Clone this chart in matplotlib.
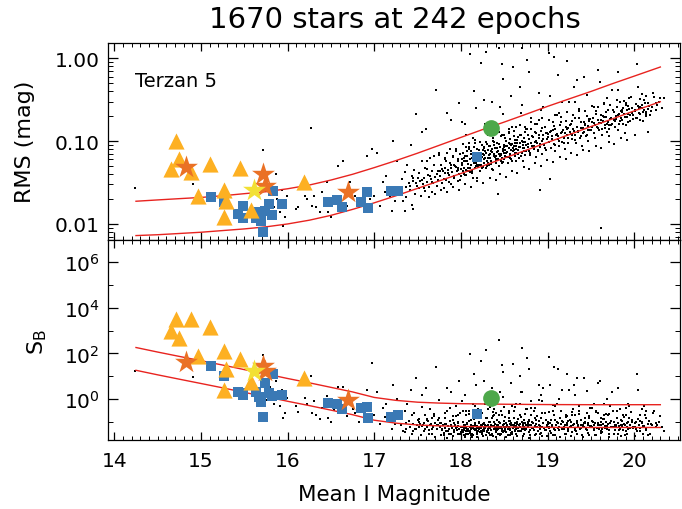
import numpy as np
import matplotlib
matplotlib.use('Agg')
import matplotlib.pyplot as plt
from matplotlib.ticker import FixedLocator, FixedFormatter, NullFormatter, MultipleLocator

# ---- field stars (black dots): mean I mag, RMS (mag), S_B ----
dot_mag = [
    14.24, 14.91, 15.28, 15.62, 15.72, 15.76, 15.80, 15.84,
    15.87, 15.88, 15.91, 15.93, 15.95, 15.97, 15.99,
    16.10, 16.12, 16.20, 16.22, 16.27, 16.28, 16.30, 16.33, 16.37, 16.40, 16.45, 16.47,
    16.50, 16.53, 16.58, 16.64, 16.68, 16.72, 16.75, 16.78, 16.82, 16.87, 16.91, 16.95,
    16.97, 17.00, 17.03, 17.06, 17.10, 17.12, 17.14, 17.18, 17.21, 17.24, 17.26, 17.28,
    17.31, 17.32, 17.33, 17.35, 17.36, 17.37, 17.38, 17.40, 17.41, 17.42, 17.43, 17.44,
    17.45, 17.46, 17.47, 17.48, 17.49, 17.50, 17.20, 17.35, 17.45,
    17.51, 17.52, 17.53, 17.54, 17.55, 17.56, 17.57, 17.58, 17.59, 17.60, 17.61, 17.62,
    17.63, 17.64, 17.65, 17.66, 17.67, 17.68, 17.69, 17.70, 17.71, 17.72, 17.73, 17.74,
    17.75, 17.76, 17.77, 17.78, 17.79, 17.80, 17.81, 17.81, 17.82, 17.83, 17.84, 17.85,
    17.86, 17.87, 17.88, 17.88, 17.89, 17.90, 17.91, 17.92, 17.93, 17.94, 17.95, 17.96,
    17.96, 17.97, 17.98, 17.98, 17.99, 18.00, 18.00,
    18.01, 18.02, 18.03, 18.04, 18.05, 18.06, 18.06, 18.07, 18.08, 18.09, 18.10, 18.10,
    18.11, 18.12, 18.13, 18.13, 18.14, 18.15, 18.16, 18.16, 18.17, 18.18, 18.19, 18.19,
    18.20, 18.21, 18.21, 18.22, 18.23, 18.23, 18.24, 18.24, 18.25, 18.25, 18.15, 18.05,
    18.26, 18.27, 18.27, 18.28, 18.29, 18.29, 18.30, 18.31, 18.31, 18.32, 18.33, 18.33,
    18.34, 18.35, 18.36, 18.36, 18.37, 18.38, 18.38, 18.39, 18.40, 18.40, 18.41, 18.42,
    18.42, 18.43, 18.44, 18.44, 18.45, 18.46, 18.46, 18.47, 18.47, 18.48, 18.48, 18.49,
    18.50, 18.50, 18.43, 18.91, 19.03, 19.62,
    18.51, 18.52, 18.52, 18.53, 18.54, 18.55, 18.55, 18.56, 18.57, 18.58, 18.58, 18.59,
    18.60, 18.60, 18.61, 18.62, 18.63, 18.64, 18.64, 18.65, 18.66, 18.67, 18.68, 18.68,
    18.69, 18.70, 18.70, 18.71, 18.72, 18.73, 18.73, 18.74, 18.75, 18.75,
    18.76, 18.77, 18.77, 18.78, 18.79, 18.79, 18.80, 18.81, 18.82, 18.83, 18.84, 18.85,
    18.85, 18.86, 18.87, 18.88, 18.89, 18.90, 18.90, 18.91, 18.92, 18.93, 18.94, 18.95,
    18.95, 18.96, 18.97, 18.98, 18.99, 19.00,
    19.01, 19.02, 19.03, 19.04, 19.05, 19.06, 19.07, 19.07, 19.08, 19.09, 19.10, 19.11,
    19.12, 19.13, 19.14, 19.15, 19.16, 19.17, 19.18, 19.19, 19.20, 19.21, 19.22, 19.22,
    19.23, 19.24,
    19.26, 19.27, 19.28, 19.29, 19.30, 19.31, 19.32, 19.33, 19.34, 19.35, 19.36, 19.37,
    19.38, 19.39, 19.40, 19.41, 19.42, 19.43, 19.44, 19.45, 19.46, 19.47, 19.48, 19.49,
    19.51, 19.52, 19.53, 19.54, 19.55, 19.56, 19.57, 19.58, 19.59, 19.60, 19.61, 19.62,
    19.63, 19.64, 19.65, 19.66, 19.67, 19.68, 19.69, 19.70, 19.71, 19.72, 19.73, 19.74,
    19.76, 19.77, 19.78, 19.79, 19.80, 19.81, 19.82, 19.83, 19.84, 19.85, 19.86,
    19.87, 19.88, 19.89, 19.90, 19.91, 19.92, 19.93, 19.94, 19.95, 19.97, 19.99,
    20.01, 20.02, 20.03, 20.05, 20.06, 20.07, 20.09, 20.10, 20.11,
    20.13, 20.14, 20.16, 20.18, 20.20, 20.22, 20.25, 20.29, 20.34,
]
dot_rms = [
    0.027, 0.030, 0.021, 0.013, 0.079, 0.017, 0.030, 0.016,
    0.040, 0.020, 0.0138, 0.026, 0.0095, 0.012, 0.022,
    0.015, 0.016, 0.022, 0.020, 0.145, 0.0166, 0.022, 0.016, 0.0138, 0.024, 0.032, 0.0138,
    0.012, 0.020, 0.050, 0.058, 0.0166, 0.032, 0.026, 0.022, 0.016, 0.026, 0.066, 0.020,
    0.080, 0.022, 0.072, 0.0166, 0.032, 0.024, 0.038, 0.022, 0.100, 0.019, 0.058, 0.028,
    0.024, 0.035, 0.019, 0.042, 0.028, 0.021, 0.052, 0.031, 0.026, 0.090, 0.038, 0.017,
    0.033, 0.045, 0.023, 0.210, 0.029, 0.036, 0.0145, 0.0145, 0.0150,
    0.027, 0.041, 0.033, 0.022, 0.058, 0.030, 0.036, 0.025, 0.047, 0.140, 0.032, 0.039,
    0.028, 0.062, 0.035, 0.044, 0.024, 0.031, 0.052, 0.037, 0.420, 0.029, 0.043, 0.034,
    0.068, 0.038, 0.051, 0.031, 0.044, 0.027, 0.060, 0.041, 0.048, 0.034, 0.072, 0.045,
    0.039, 0.055, 0.030, 0.180, 0.047, 0.042, 0.064, 0.036, 0.050, 0.080, 0.044, 0.033,
    0.057, 0.048, 0.290, 0.040, 0.069, 0.046, 0.038,
    0.055, 0.071, 0.048, 0.062, 0.039, 0.085, 0.057, 0.066, 0.044, 0.095, 0.060, 1.120,
    0.052, 0.075, 0.041, 0.063, 0.110, 0.054, 0.068, 0.047, 0.250, 0.059, 0.080, 0.036,
    0.064, 0.051, 0.072, 0.043, 0.880, 0.058, 0.090, 0.065, 0.049, 0.070, 0.400, 0.160,
    0.068, 0.085, 0.055, 0.075, 1.200, 0.047, 0.092, 0.063, 0.079, 0.052, 0.120, 0.070,
    0.088, 0.058, 0.300, 0.074, 0.045, 0.098, 0.066, 0.082, 0.054, 0.140, 0.073, 0.060,
    0.095, 0.077, 1.320, 0.050, 0.086, 0.069, 0.115, 0.850, 0.062, 0.080, 0.570, 0.056,
    0.091, 0.072, 0.023, 0.026, 0.035, 0.0089,
    0.078, 0.100, 0.064, 0.088, 0.055, 0.130, 0.082, 0.070, 0.105, 0.060, 0.350, 0.092,
    0.780, 0.075, 0.115, 0.066, 0.087, 0.150, 0.058, 0.096, 0.079, 0.062, 0.120, 0.085,
    0.220, 1.320, 0.071, 0.098, 0.057, 0.108, 0.083, 0.068, 0.140, 0.090,
    0.950, 0.092, 0.120, 0.075, 0.690, 0.105, 0.068, 0.140, 0.088, 0.112, 0.080, 0.160,
    0.098, 0.064, 0.125, 0.094, 0.076, 0.180, 0.108, 0.085, 0.132, 0.100, 0.070, 0.260,
    0.117, 0.090, 0.150, 0.078, 0.105, 0.122,
    1.160, 0.098, 0.130, 0.082, 0.115, 0.170, 1.050, 0.092, 0.140, 0.075, 0.120, 0.205,
    0.105, 0.088, 0.155, 0.125, 0.098, 0.300, 0.135, 0.110, 0.080, 0.175, 0.940, 0.118,
    0.145, 0.095,
    0.128, 0.160, 0.105, 0.140, 0.450, 0.118, 0.190, 0.095, 0.150, 0.132, 0.230, 0.110,
    0.170, 0.145, 0.088, 0.125, 0.600, 0.158, 0.115, 0.200, 0.138, 0.100, 0.175, 0.135,
    0.150, 0.190, 0.125, 0.165, 0.108, 0.230, 0.150, 0.182, 0.135, 0.520, 0.165, 0.205,
    0.118, 0.175, 0.280, 0.145, 0.195, 0.130, 0.160, 0.240, 0.115, 0.185, 0.155, 0.410,
    0.180, 0.225, 0.150, 0.200, 0.260, 0.135, 0.210, 0.175, 0.300, 0.190, 0.240,
    0.160, 0.215, 0.125, 0.270, 0.195, 0.235, 0.170, 0.330, 0.205, 0.250, 0.185,
    0.230, 0.280, 0.190, 0.250, 0.320, 0.210, 0.270, 0.175, 0.240,
    0.350, 0.225, 0.290, 0.205, 0.260, 0.380, 0.240, 0.300, 0.330,
]
dot_sb = [
    17, 9.0, 2.2, 0.8, 85, 0.9, 3.5, 0.6,
    6.0, 1.3, 0.5, 2.4, 0.15, 0.25, 1.1,
    0.5, 0.28, 1.1, 0.63, 10, 0.25, 0.8, 0.2, 0.13, 0.4, 1.4, 0.14,
    0.1, 0.32, 3.2, 3.5, 0.18, 0.8, 0.35, 0.25, 0.1, 0.32, 2.5, 0.14,
    40, 0.2, 2.0, 0.08, 0.4, 0.16, 0.63, 0.11, 4, 0.08, 1.0, 0.2,
    0.07, 0.15, 0.04, 0.30, 0.09, 0.05, 0.6, 0.11, 0.06, 2.5, 0.2, 0.028,
    0.08, 0.25, 0.05, 8, 0.07, 0.12, 0.05, 0.035, 0.04,
    0.06, 0.13, 0.08, 0.025, 0.45, 0.07, 0.09, 0.05, 0.2, 3.0, 0.06, 0.11,
    0.045, 0.35, 0.08, 0.15, 0.03, 0.06, 0.22, 0.09, 25, 0.05, 0.12, 0.07,
    0.9, 0.06, 0.09, 0.045, 0.07, 0.025, 0.15, 0.055, 0.08, 0.04, 0.3, 0.065,
    0.05, 0.11, 0.03, 2.0, 0.07, 0.055, 0.18, 0.042, 0.075, 0.5, 0.06, 0.028,
    0.1, 0.065, 6, 0.05, 0.25, 0.06, 0.035,
    0.06, 0.1, 0.045, 0.07, 0.024, 0.2, 0.055, 0.08, 0.04, 0.3, 0.06, 90,
    0.05, 0.12, 0.03, 0.065, 0.6, 0.05, 0.075, 0.042, 4, 0.055, 0.14, 0.022,
    0.06, 0.048, 0.09, 0.034, 45, 0.055, 0.25, 0.07, 0.045, 0.08, 12, 1.5,
    0.055, 0.09, 0.04, 0.07, 140, 0.026, 0.15, 0.05, 0.075, 0.032, 0.45, 0.06,
    0.1, 0.045, 3, 0.065, 0.023, 0.2, 0.05, 0.08, 0.038, 0.9, 0.06, 0.045,
    0.12, 0.07, 400, 0.03, 0.09, 0.055, 0.3, 30, 0.048, 0.075, 15, 0.036,
    0.11, 0.06, 0.03, 0.03, 0.04, 0.04,
    0.05, 0.09, 0.035, 0.07, 0.025, 0.25, 0.06, 0.045, 0.11, 0.032, 5, 0.075,
    35, 0.055, 0.15, 0.042, 0.065, 0.6, 0.028, 0.08, 0.055, 0.04, 0.2, 0.06,
    2, 180, 0.048, 0.09, 0.024, 0.12, 0.06, 0.045, 0.35, 0.07,
    60, 0.06, 0.1, 0.035, 20, 0.075, 0.027, 0.2, 0.055, 0.085, 0.045, 0.4,
    0.065, 0.03, 0.12, 0.06, 0.04, 0.9, 0.07, 0.05, 0.15, 0.06, 0.023, 3,
    0.09, 0.055, 0.25, 0.042, 0.065, 0.1,
    70, 0.055, 0.09, 0.033, 0.065, 0.3, 25, 0.05, 0.12, 0.026, 0.07, 0.6,
    0.055, 0.042, 0.15, 0.08, 0.05, 2.5, 0.1, 0.06, 0.028, 0.2, 12, 0.07,
    0.11, 0.038,
    0.06, 0.1, 0.034, 0.075, 4, 0.055, 0.2, 0.04, 0.085, 0.065, 0.5, 0.05,
    0.12, 0.07, 0.025, 0.06, 8, 0.09, 0.05, 0.25, 0.07, 0.032, 0.15, 0.065,
    0.06, 0.1, 0.045, 0.075, 0.026, 0.3, 0.055, 0.09, 0.05, 6, 0.07, 0.14,
    0.035, 0.08, 0.6, 0.055, 0.1, 0.048, 0.065, 0.2, 0.028, 0.085, 0.06, 2,
    0.06, 0.1, 0.045, 0.075, 0.15, 0.03, 0.065, 0.05, 0.35, 0.07, 0.11,
    0.042, 0.08, 0.025, 0.2, 0.06, 0.09, 0.05, 0.5, 0.07, 0.12, 0.055,
    0.06, 0.1, 0.038, 0.075, 0.2, 0.055, 0.09, 0.03, 0.065,
    0.15, 0.045, 0.08, 0.028, 0.07, 0.25, 0.06, 0.1, 0.04,
]

# ---- dense core of the faint field stars ----
core_mag = [
    17.782, 17.803, 17.826, 17.847, 17.861, 17.884, 17.902, 17.918, 17.937, 17.955, 17.971, 17.993,
    18.007, 18.024, 18.041, 18.058, 18.072, 18.093, 18.108, 18.126, 18.144, 18.162, 18.178, 18.196,
    18.013, 18.036, 18.052, 18.067, 18.085, 18.101, 18.119, 18.137, 18.153, 18.171, 18.188, 18.204,
    18.213, 18.229, 18.246, 18.262, 18.279, 18.293, 18.311, 18.327, 18.344, 18.362, 18.377, 18.394,
    18.218, 18.236, 18.254, 18.268, 18.285, 18.302, 18.318, 18.336, 18.351, 18.369, 18.386, 18.402,
    18.412, 18.428, 18.443, 18.461, 18.476, 18.493, 18.509, 18.524, 18.541, 18.557, 18.574, 18.591,
    18.419, 18.436, 18.452, 18.468, 18.484, 18.501, 18.517, 18.533, 18.549, 18.566, 18.582, 18.598,
    18.607, 18.622, 18.639, 18.655, 18.671, 18.688, 18.703, 18.719, 18.736, 18.752, 18.768, 18.784,
    18.614, 18.631, 18.647, 18.663, 18.679, 18.695, 18.711, 18.727, 18.744, 18.760, 18.776, 18.792,
    18.803, 18.819, 18.836, 18.851, 18.868, 18.884, 18.899, 18.917, 18.932, 18.949, 18.965, 18.982,
    19.004, 19.021, 19.037, 19.054, 19.069, 19.086, 19.103, 19.118, 19.135, 19.151, 19.168, 19.184,
    19.203, 19.219, 19.236, 19.252, 19.268, 19.285, 19.301, 19.318, 19.334, 19.351, 19.367, 19.384,
    19.402, 19.417, 19.433, 19.449, 19.466, 19.482, 19.498, 19.515, 19.531, 19.547, 19.563, 19.579,
    19.596, 19.612, 19.628, 19.645, 19.661, 19.677, 19.694, 19.711, 19.727, 19.743, 19.759, 19.776,
    19.792, 19.808, 19.824, 19.841, 19.857, 19.873, 19.889, 19.906, 19.922, 19.938, 19.954, 19.971,
    19.987, 20.004, 20.021, 20.038, 20.054, 20.071, 20.088, 20.104, 20.121, 20.138, 20.155, 20.172,
    17.412, 17.446, 17.483, 17.517, 17.546, 17.578, 17.609, 17.637, 17.668, 17.694, 17.722, 17.756,
    18.031, 18.078, 18.131, 18.183, 18.241, 18.297, 18.348, 18.407, 18.458, 18.512, 18.563, 18.618,
    18.058, 18.164, 18.273, 18.381, 18.488, 18.594, 18.703, 18.811, 18.918, 19.027, 19.131, 19.242,
    19.312, 19.456, 19.538, 19.689, 19.817, 19.903, 20.046, 20.113, 20.189, 20.227, 20.264, 20.318,
]
core_rms = [
    0.046, 0.035, 0.058, 0.041, 0.032, 0.052, 0.066, 0.038, 0.049, 0.043, 0.061, 0.034,
    0.052, 0.044, 0.067, 0.039, 0.058, 0.081, 0.047, 0.062, 0.036, 0.072, 0.055, 0.049,
    0.061, 0.057, 0.045, 0.075, 0.053, 0.042, 0.069, 0.059, 0.086, 0.050, 0.064, 0.078,
    0.058, 0.071, 0.049, 0.083, 0.062, 0.097, 0.054, 0.068, 0.076, 0.046, 0.089, 0.065,
    0.066, 0.052, 0.079, 0.060, 0.072, 0.050, 0.088, 0.063, 0.057, 0.101, 0.070, 0.059,
    0.074, 0.061, 0.093, 0.068, 0.055, 0.084, 0.109, 0.071, 0.064, 0.096, 0.079, 0.058,
    0.082, 0.070, 0.066, 0.118, 0.077, 0.060, 0.087, 0.073, 0.125, 0.068, 0.090, 0.082,
    0.079, 0.095, 0.072, 0.113, 0.085, 0.066, 0.101, 0.089, 0.130, 0.076, 0.093, 0.107,
    0.088, 0.081, 0.104, 0.069, 0.094, 0.120, 0.082, 0.075, 0.098, 0.142, 0.086, 0.072,
    0.096, 0.114, 0.086, 0.128, 0.101, 0.078, 0.119, 0.092, 0.145, 0.107, 0.083, 0.124,
    0.112, 0.098, 0.134, 0.105, 0.152, 0.091, 0.123, 0.116, 0.101, 0.168, 0.128, 0.094,
    0.127, 0.141, 0.109, 0.156, 0.122, 0.176, 0.134, 0.104, 0.148, 0.129, 0.192, 0.116,
    0.143, 0.128, 0.162, 0.117, 0.151, 0.185, 0.137, 0.169, 0.124, 0.158, 0.210, 0.146,
    0.164, 0.181, 0.142, 0.198, 0.158, 0.224, 0.172, 0.139, 0.189, 0.161, 0.236, 0.176,
    0.187, 0.205, 0.162, 0.228, 0.181, 0.252, 0.196, 0.158, 0.214, 0.241, 0.175, 0.219,
    0.208, 0.236, 0.192, 0.262, 0.218, 0.181, 0.249, 0.225, 0.287, 0.202, 0.241, 0.268,
    0.029, 0.036, 0.031, 0.041, 0.034, 0.027, 0.046, 0.038, 0.032, 0.051, 0.040, 0.044,
    0.040, 0.047, 0.044, 0.052, 0.048, 0.057, 0.053, 0.061, 0.058, 0.066, 0.062, 0.071,
    0.120, 0.095, 0.160, 0.130, 0.210, 0.150, 0.270, 0.190, 0.240, 0.350, 0.220, 0.300,
    0.300, 0.360, 0.260, 0.330, 0.420, 0.290, 0.450, 0.310, 0.230, 0.340, 0.270, 0.250,
]
core_sb = [
    0.05, 0.032, 0.08, 0.04, 0.028, 0.065, 0.12, 0.036, 0.055, 0.045, 0.09, 0.03,
    0.045, 0.035, 0.07, 0.03, 0.05, 0.11, 0.04, 0.06, 0.026, 0.085, 0.048, 0.038,
    0.06, 0.055, 0.04, 0.09, 0.05, 0.033, 0.075, 0.055, 0.13, 0.042, 0.065, 0.1,
    0.05, 0.07, 0.036, 0.09, 0.055, 0.15, 0.042, 0.06, 0.075, 0.03, 0.1, 0.052,
    0.06, 0.04, 0.08, 0.05, 0.065, 0.034, 0.095, 0.055, 0.045, 0.18, 0.065, 0.048,
    0.065, 0.05, 0.1, 0.058, 0.038, 0.08, 0.16, 0.06, 0.05, 0.11, 0.07, 0.035,
    0.075, 0.06, 0.052, 0.2, 0.07, 0.04, 0.085, 0.065, 0.3, 0.05, 0.09, 0.07,
    0.06, 0.085, 0.05, 0.13, 0.07, 0.038, 0.1, 0.075, 0.22, 0.048, 0.08, 0.11,
    0.07, 0.06, 0.1, 0.04, 0.08, 0.16, 0.065, 0.05, 0.09, 0.35, 0.07, 0.045,
    0.07, 0.1, 0.055, 0.14, 0.08, 0.04, 0.11, 0.065, 0.25, 0.085, 0.045, 0.12,
    0.08, 0.06, 0.12, 0.07, 0.2, 0.045, 0.1, 0.085, 0.06, 0.3, 0.11, 0.05,
    0.07, 0.09, 0.05, 0.12, 0.065, 0.2, 0.08, 0.042, 0.11, 0.07, 0.3, 0.055,
    0.075, 0.06, 0.1, 0.045, 0.085, 0.18, 0.065, 0.11, 0.05, 0.09, 0.28, 0.07,
    0.07, 0.1, 0.05, 0.13, 0.065, 0.22, 0.08, 0.045, 0.11, 0.06, 0.3, 0.075,
    0.065, 0.09, 0.045, 0.12, 0.06, 0.2, 0.075, 0.04, 0.1, 0.15, 0.055, 0.095,
    0.06, 0.09, 0.05, 0.13, 0.07, 0.04, 0.1, 0.065, 0.2, 0.055, 0.08, 0.11,
    0.06, 0.08, 0.05, 0.1, 0.065, 0.04, 0.13, 0.07, 0.05, 0.18, 0.075, 0.085,
    0.025, 0.03, 0.022, 0.034, 0.028, 0.04, 0.026, 0.036, 0.03, 0.042, 0.027, 0.038,
    0.3, 0.2, 0.6, 0.35, 1.2, 0.5, 2, 0.8, 1.5, 4, 1.0, 2.5,
    1.5, 2.2, 0.6, 1.0, 3.0, 0.4, 2.5, 0.5, 0.08, 0.3, 0.07, 0.06,
]

# ---- wings of the faint band (above and below the core) ----
halo_mag = [
    17.613, 17.689, 17.742, 17.815, 17.872, 17.943, 18.019, 18.087, 18.156, 18.224, 18.309, 18.371,
    18.433, 18.497, 18.552, 18.613, 18.678, 18.741, 18.806, 18.872, 18.934, 19.012, 19.086, 19.158,
    19.224, 19.297, 19.361, 19.428, 19.507, 19.584, 19.652, 19.724, 19.801, 19.876, 19.962, 20.083,
    17.628, 17.704, 17.771, 17.836, 17.908, 17.976, 18.044, 18.113, 18.187, 18.258, 18.332, 18.403,
    18.447, 18.521, 18.586, 18.651, 18.723, 18.788, 18.857, 18.925, 18.997, 19.062, 19.143, 19.209,
    19.271, 19.339, 19.412, 19.478, 19.553, 19.617, 19.702, 19.768, 19.846, 19.917, 20.012, 20.158,
    17.925, 18.142, 18.355, 18.571, 18.785, 18.996, 19.211, 19.425, 19.641, 19.858, 20.071, 20.249,
    17.966, 18.192, 18.404, 18.627, 18.845, 19.058, 19.276, 19.487, 19.713, 19.927, 20.137, 20.296,
    17.553, 17.838, 18.016, 18.268, 18.447, 18.682, 18.903, 19.115, 19.344, 19.583, 19.811, 20.035,
]
halo_rms = [
    0.058, 0.066, 0.072, 0.063, 0.081, 0.075, 0.092, 0.085, 0.104, 0.098, 0.118, 0.109,
    0.128, 0.118, 0.142, 0.131, 0.158, 0.147, 0.172, 0.162, 0.190, 0.178, 0.205, 0.196,
    0.225, 0.208, 0.246, 0.232, 0.268, 0.255, 0.292, 0.276, 0.318, 0.301, 0.345, 0.372,
    0.021, 0.023, 0.026, 0.024, 0.028, 0.026, 0.030, 0.028, 0.033, 0.031, 0.036, 0.034,
    0.040, 0.037, 0.044, 0.041, 0.049, 0.046, 0.054, 0.050, 0.059, 0.056, 0.065, 0.061,
    0.072, 0.068, 0.079, 0.075, 0.087, 0.083, 0.097, 0.092, 0.108, 0.102, 0.118, 0.130,
    0.052, 0.063, 0.081, 0.093, 0.106, 0.124, 0.148, 0.171, 0.202, 0.224, 0.258, 0.290,
    0.045, 0.070, 0.066, 0.103, 0.088, 0.137, 0.118, 0.186, 0.158, 0.262, 0.210, 0.330,
    0.130, 0.220, 0.170, 0.310, 0.260, 0.450, 0.380, 0.620, 0.550, 0.720, 0.680, 0.850,
]
halo_sb = [
    0.12, 0.2, 0.15, 0.25, 0.4, 0.18, 0.3, 0.22, 0.5, 0.16, 0.35, 0.28,
    0.2, 0.45, 0.15, 0.3, 0.6, 0.22, 0.4, 0.18, 0.8, 0.26, 0.5, 0.3,
    0.18, 0.35, 0.22, 0.15, 0.4, 0.25, 0.2, 0.5, 0.3, 0.16, 0.28, 0.35,
    0.03, 0.022, 0.026, 0.02, 0.024, 0.028, 0.021, 0.025, 0.03, 0.023, 0.027, 0.022,
    0.025, 0.021, 0.03, 0.024, 0.028, 0.02, 0.026, 0.032, 0.023, 0.027, 0.022, 0.029,
    0.024, 0.03, 0.021, 0.027, 0.025, 0.032, 0.022, 0.028, 0.024, 0.03, 0.023, 0.026,
    0.09, 0.065, 0.14, 0.08, 0.12, 0.07, 0.16, 0.09, 0.13, 0.075, 0.11, 0.085,
    0.2, 0.35, 0.25, 0.45, 0.3, 0.55, 0.28, 0.4, 0.22, 0.6, 0.3, 0.18,
    1.5, 3, 0.8, 6, 2, 10, 4, 20, 8, 5, 3, 12,
]

# ---- highlighted variables ----
sq_mag = [15.12, 15.26, 15.43, 15.49, 15.48, 15.63, 15.69, 15.67, 15.74, 15.79, 15.82, 15.83,
          15.93, 15.72, 16.46, 16.57, 16.63, 16.85, 16.92, 16.93, 17.19, 17.27, 18.18]
sq_rms = [0.0210, 0.0182, 0.0132, 0.0166, 0.0118, 0.0118, 0.0109, 0.0138, 0.0144, 0.0174, 0.0128, 0.0252,
          0.0174, 0.0080, 0.0186, 0.0194, 0.0159, 0.0182, 0.0245, 0.0154, 0.0252, 0.0252, 0.065]
sq_sb = [28.8, 10.5, 2.1, 1.8, 1.5, 1.95, 0.71, 1.2, 5.0, 1.8, 1.4, 12.6,
         1.5, 0.16, 0.66, 0.60, 0.36, 0.39, 0.43, 0.14, 0.16, 0.20, 0.22]

tri_mag = [14.71, 14.75, 14.65, 14.88, 15.10, 15.45, 14.96, 15.27, 15.29, 15.27, 15.58, 16.19]
tri_rms = [0.101, 0.061, 0.046, 0.042, 0.053, 0.048, 0.022, 0.026, 0.019, 0.012, 0.0148, 0.032]
tri_sb = [3240, 457, 1000, 3240, 1380, 56, 74, 123, 21, 2.5, 5.4, 8.1]

ostar_mag = [14.83, 15.72, 15.74, 16.70]
ostar_rms = [0.049, 0.040, 0.029, 0.024]
ostar_sb = [41, 29, 17, 0.91]

ystar_mag = [15.61]
ystar_rms = [0.026]
ystar_sb = [17.4]

circ_mag = [18.35]
circ_rms = [0.144]
circ_sb = [1.07]

# ---- red envelope curves ----
rcurve_mag = [14.25, 14.5, 14.75, 15.0, 15.25, 15.5, 15.75, 16.0, 16.25, 16.5, 16.75, 17.0, 17.25,
              17.5, 17.75, 18.0, 18.25, 18.5, 18.75, 19.0, 19.25, 19.5, 19.75, 20.0, 20.3]
rms_high = [0.0188, 0.0195, 0.0202, 0.0209, 0.0219, 0.0232, 0.0245, 0.0266, 0.0295, 0.0339,
            0.0398, 0.0479, 0.0582, 0.0716, 0.0891, 0.111, 0.138, 0.170, 0.211, 0.263,
            0.324, 0.398, 0.495, 0.610, 0.785]
rms_low = [0.00724, 0.00741, 0.00767, 0.00794, 0.00832, 0.00871, 0.00923, 0.0100, 0.0111,
           0.0127, 0.0150, 0.0180, 0.0219, 0.0269, 0.0331, 0.0407, 0.0501, 0.0624, 0.0776,
           0.0966, 0.120, 0.150, 0.186, 0.232, 0.299]
scurve_mag = [14.25, 14.5, 14.75, 15.0, 15.25, 15.5, 15.75, 16.0, 16.25, 16.5, 16.75, 17.0,
              17.25, 17.5, 17.75, 18.0, 18.5, 19.0, 19.5, 20.0, 20.3]
sb_high = [182, 115, 74.1, 47.9, 30.9, 19.5, 12.6, 7.94, 5.13, 3.24, 2.04, 1.17, 0.871,
           0.724, 0.661, 0.624, 0.589, 0.569, 0.562, 0.562, 0.562]
sb_low = [18.2, 11.5, 7.41, 4.79, 3.09, 1.95, 1.26, 0.794, 0.513, 0.324, 0.204, 0.117,
          0.0871, 0.0724, 0.0661, 0.0624, 0.0589, 0.0569, 0.0562, 0.0562, 0.0562]

TRI_C = '#FDB022'
OSTAR_C = '#EA7125'
YSTAR_C = '#F2E034'
SQ_C = '#3A79B5'
CIRC_C = '#4DA84A'
LINE_C = '#E8231F'

W, H = 682, 510
fig = plt.figure(figsize=(W / 100, H / 100), dpi=100)
ax1 = fig.add_axes([108 / W, 1 - 241 / H, 572 / W, 197 / H])
ax2 = fig.add_axes([108 / W, 1 - 441 / H, 572 / W, 200 / H])


def draw(ax, yd, yc2, yh, ysq, ytri, yo, yy, yc, cx, ylo, yhi):
    for xs, ys in ((dot_mag, yd), (core_mag, yc2), (halo_mag, yh)):
        ax.scatter(xs, ys, s=3.6, marker='s', c='k', linewidths=0, zorder=2)
    ax.plot(cx, ylo, color=LINE_C, lw=1.0, zorder=3)
    ax.plot(cx, yhi, color=LINE_C, lw=1.0, zorder=3)
    ax.scatter(sq_mag, ysq, s=46, marker='s', c=SQ_C, linewidths=0, zorder=4)
    ax.scatter(tri_mag, ytri, s=135, marker='^', c=TRI_C, linewidths=0, zorder=5)
    ax.scatter(circ_mag, yc, s=145, marker='o', c=CIRC_C, linewidths=0, zorder=5)
    ax.scatter(ostar_mag, yo, s=300, marker='*', c=OSTAR_C, linewidths=0, zorder=6)
    ax.scatter(ystar_mag, yy, s=300, marker='*', c=YSTAR_C, linewidths=0, zorder=7)


draw(ax1, dot_rms, core_rms, halo_rms, sq_rms, tri_rms, ostar_rms, ystar_rms, circ_rms,
     rcurve_mag, rms_low, rms_high)
draw(ax2, dot_sb, core_sb, halo_sb, sq_sb, tri_sb, ostar_sb, ystar_sb, circ_sb,
     scurve_mag, sb_low, sb_high)

for ax in (ax1, ax2):
    ax.set_xlim(13.927, 20.527)
    ax.set_yscale('log')
    ax.xaxis.set_major_locator(MultipleLocator(1))
    ax.xaxis.set_minor_locator(MultipleLocator(0.1))
    ax.tick_params(which='both', direction='in', top=True, right=True, labelsize=14.5)
    ax.tick_params(axis='x', which='major', length=6, width=0.9, pad=8)
    ax.tick_params(axis='x', which='minor', length=3, width=0.7)
    ax.tick_params(axis='y', which='major', length=7, width=0.9, pad=6)
    ax.tick_params(axis='y', which='minor', length=3.5, width=0.7)
    for sp in ax.spines.values():
        sp.set_linewidth(0.9)

ax1.set_ylim(0.0064, 1.53)
ax1.yaxis.set_major_locator(FixedLocator([0.01, 0.1, 1.0]))
ax1.yaxis.set_major_formatter(FixedFormatter(['0.01', '0.10', '1.00']))
ax1.yaxis.set_minor_locator(FixedLocator(
    [k * 10.0 ** e for e in (-3, -2, -1, 0) for k in range(2, 10)]))
ax1.yaxis.set_minor_formatter(NullFormatter())
ax1.tick_params(axis='x', labelbottom=False)
ax1.text(0.047, 0.81, 'Terzan 5', transform=ax1.transAxes, fontsize=14, va='center')

ax2.set_ylim(10 ** -1.8, 10 ** 6.98)
ax2.yaxis.set_major_locator(FixedLocator([1, 1e2, 1e4, 1e6]))
ax2.yaxis.set_major_formatter(FixedFormatter([r'$10^{0}$', r'$10^{2}$', r'$10^{4}$', r'$10^{6}$']))
ax2.yaxis.set_minor_locator(FixedLocator([0.1, 10, 1e3, 1e5]))
ax2.yaxis.set_minor_formatter(NullFormatter())

fig.text(394.5 / W, 1 - 20 / H, '1670 stars at 242 epochs', ha='center', va='center', fontsize=21)
fig.text(394.5 / W, 1 - 495 / H, 'Mean I Magnitude', ha='center', va='center', fontsize=15.5)
fig.text(25 / W, 1 - 142 / H, 'RMS (mag)', ha='center', va='center', rotation=90, fontsize=16)
fig.text(37 / W, 1 - 342 / H, r'S$_{\rm B}$', ha='center', va='center', rotation=90, fontsize=16)

fig.savefig('out.png', dpi=100)
